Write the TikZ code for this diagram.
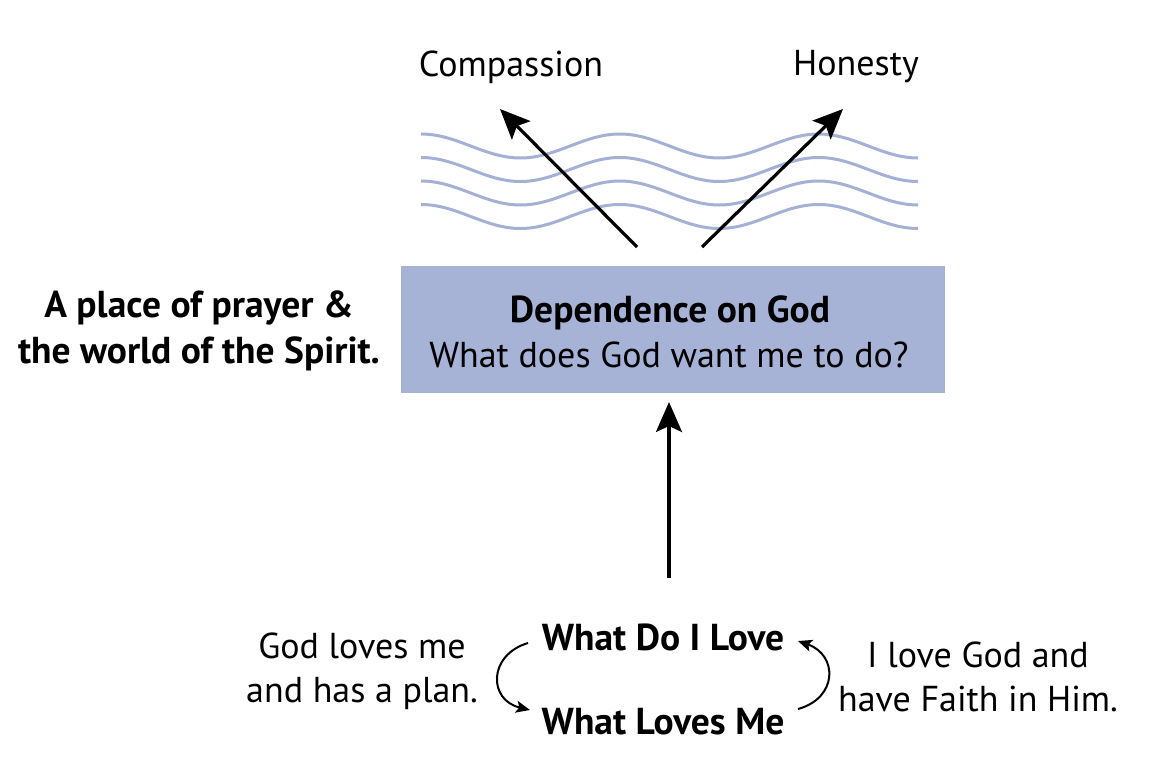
\documentclass[tikz,border=0pt]{standalone}
\usepackage{fontspec}
\setmainfont{PT Sans}
\usetikzlibrary{arrows.meta}
\definecolor{wavec}{HTML}{A5B1D4}
\definecolor{boxc}{HTML}{A6B2D6}
\tikzset{
  txt/.style={font=\fontsize{36}{44}\selectfont, align=center, inner sep=0pt},
  btxt/.style={font=\fontsize{37.5}{46}\selectfont\bfseries, align=center, inner sep=0pt},
  wave/.style={wavec, line width=3pt},
  bigarrow/.style={line width=3.2pt, -{Stealth[length=30pt, width=26pt, inset=6pt]}},
  smallarrow/.style={line width=2pt, -{Stealth[length=14pt, width=12pt, inset=3pt]}},
}
\begin{document}
\begin{tikzpicture}[x=1pt, y=-1pt]
\useasboundingbox (0,0) rectangle (1158,770);
% labels top
\node[txt] (comp) at (511,67) {Compassion};
\node[txt] (hon) at (856,67) {Honesty};
% waves
\foreach \k in {0,1,2,3}{
  \draw[wave, yshift=-23.5*\k] (421,134) cos ++(49.7,12) sin ++(49.7,12) cos ++(49.7,-12) sin ++(49.7,-12)
     cos ++(49.7,12) sin ++(49.7,12) cos ++(49.7,-12) sin ++(49.7,-12) cos ++(49.7,12) sin ++(49.7,12);
}
% box
\node[fill=boxc, minimum width=544pt, minimum height=127pt, inner sep=0pt] (box) at (673,329.5) {};
\node[btxt] (dep) at (670,313) {Dependence on God};
\node[txt] (what) at (669,355) {What does God want me to do?};
\coordinate (a1s) at (637,247);
\coordinate (a1e) at (500,109);
\coordinate (a2s) at (702,247);
\coordinate (a2e) at (843,109);
\draw[bigarrow] (a1s) -- (a1e);
\draw[bigarrow] (a2s) -- (a2e);
% left label
\node[btxt] (place) at (199,331) {A place of prayer \&\\the world of the Spirit.};
% vertical arrow
\coordinate (vs) at (669,578);
\coordinate (ve) at (669,402);
\draw[bigarrow] (vs) -- (ve);
% bottom
\node[btxt] (love) at (663,637) {What Do I Love};
\node[btxt] (loves) at (663,722) {What Loves Me};
\node[txt] (gl) at (362,671) {God loves me\\and has a plan.};
\node[txt] (il) at (978,677) {I love God and\\have Faith in Him.};
\coordinate (l1) at (528,643);
\coordinate (l2) at (530,710);
\coordinate (r1) at (798,709);
\coordinate (r2) at (798,641);
\draw[smallarrow] (l1) .. controls (488,655) and (488,700) .. (l2);
\draw[smallarrow] (r1) .. controls (838,698) and (838,655) .. (r2);
\end{tikzpicture}
\end{document}
